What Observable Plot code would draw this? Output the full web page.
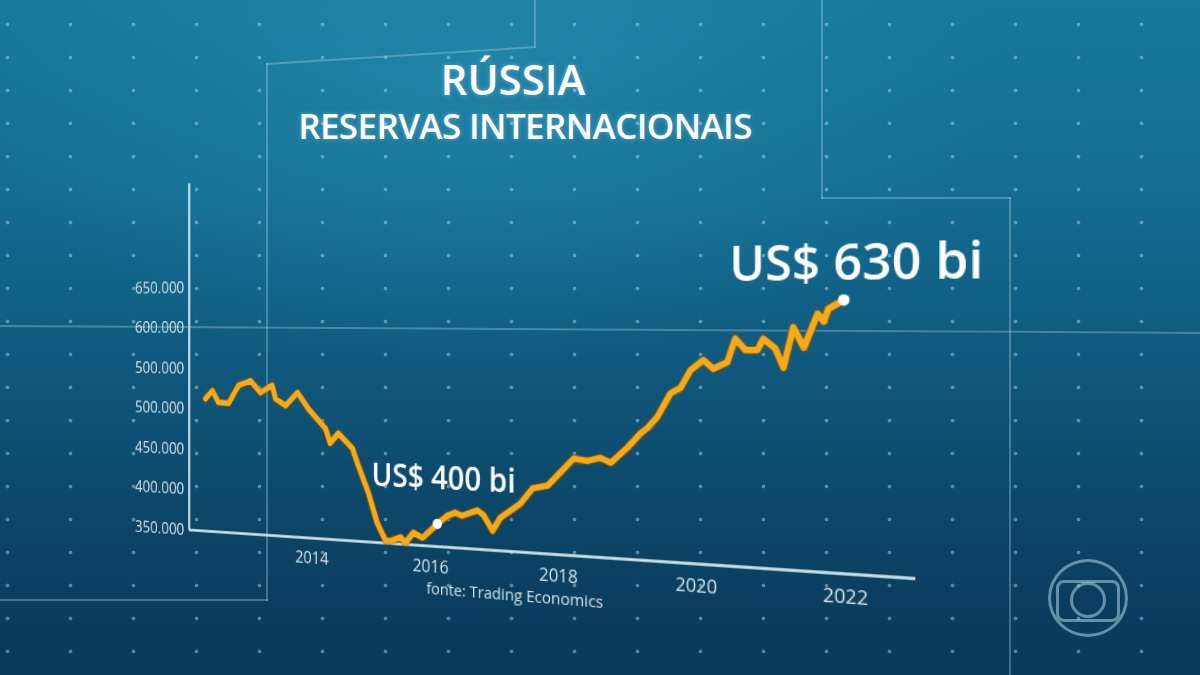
<!DOCTYPE html>
<html><head><meta charset="utf-8">
<script src="https://cdn.jsdelivr.net/npm/d3@7"></script>
<script src="https://cdn.jsdelivr.net/npm/@observablehq/plot@0.6"></script>
<style>
html,body{margin:0;padding:0;width:1200px;height:675px;overflow:hidden;}
body{position:relative;font-family:"Open Sans",sans-serif;
background:
 radial-gradient(ellipse 700px 420px at 40% 8%, rgba(45,150,185,0.45), rgba(45,150,185,0) 75%),
 linear-gradient(180deg,#17789b 0%,#146d92 28%,#105a7f 52%,#0c4668 76%,#0a3859 100%);}
.dots{position:absolute;left:0;top:0;width:1200px;height:675px;
background-image:radial-gradient(circle, rgba(175,220,238,0.45) 0, rgba(175,220,238,0.45) 1.4px, rgba(175,220,238,0) 2.3px);
background-size:63px 33px;background-position:-24px 8px;}
.ln{position:absolute;background:rgba(180,218,234,0.33);}
.title{position:absolute;color:#fff;font-weight:600;white-space:nowrap;text-align:center;text-shadow:0 0 5px rgba(200,240,255,0.35);}
#chart{position:absolute;left:0;top:0;width:1200px;height:675px;transform-origin:0 0;}
.logo{position:absolute;box-sizing:border-box;border:3px solid rgba(160,200,216,0.6);}
</style></head>
<body>
<div class="dots"></div>
<div class="ln" style="left:534px;top:0;width:2px;height:48px"></div>
<div class="ln" style="left:266px;top:63px;width:270px;height:2px;transform-origin:0 0;transform:rotate(-3.6deg)"></div>
<div class="ln" style="left:266px;top:63px;width:2px;height:538px"></div>
<div class="ln" style="left:0;top:599px;width:268px;height:2px"></div>
<div class="ln" style="left:821px;top:0;width:2px;height:199px"></div>
<div class="ln" style="left:821px;top:197px;width:190px;height:2px"></div>
<div class="ln" style="left:1009px;top:197px;width:2px;height:478px"></div>
<div class="ln" style="left:0;top:325px;width:1201px;height:2px;transform-origin:0 0;transform:rotate(0.33deg)"></div>
<div class="title" style="left:313px;top:58px;width:400px;font-size:42px;line-height:42px">RÚSSIA</div>
<div class="title" style="left:225px;top:108px;width:600px;font-size:35px;line-height:35px;letter-spacing:-0.6px">RESERVAS INTERNACIONAIS</div>
<div id="chart"></div>
<div class="logo" style="left:1048px;top:559px;width:80px;height:78px;border-radius:50%"></div>
<div class="logo" style="left:1056px;top:580px;width:64px;height:42px;border-radius:8px"></div>
<div class="logo" style="left:1070px;top:582px;width:36px;height:36px;border-radius:50%"></div>
<script>
// Reserves, US$ billions, by decimal year
const years = [2012.08,2012.21,2012.32,2012.51,2012.69,2012.91,2013.09,2013.30,2013.36,2013.54,
  2013.75,2013.94,2014.24,2014.32,2014.46,2014.70,2014.80,2014.97,2015.12,2015.26,
  2015.34,2015.51,2015.59,2015.72,2015.87,2016.00,2016.11,2016.27,2016.40,2016.51,
  2016.75,2016.85,2016.99,2017.11,2017.42,2017.61,2017.84,2018.03,2018.23,2018.44,
  2018.63,2018.78,2019.02,2019.21,2019.31,2019.45,2019.64,2019.78,2019.92,2020.10,
  2020.24,2020.43,2020.54,2020.68,2020.84,2020.92,2021.08,2021.19,2021.32,2021.46,
  2021.64,2021.72,2021.78,2021.98];
const values = [513,523,509,508,530,536,522,531,515,507,
  523,504,481,464,476,459,439,408,373,353,
  353,358,352,364,359,368,376,386,390,387,
  394,389,372,387,404,422,426,441,457,455,
  459,454,471,487,493,505,531,537,556,567,
  558,565,590,578,578,590,580,560,602,581,
  616,608,621,630];
const xTicks = [2014, 2016, 2018, 2020, 2022];
const yTicks = [350, 400, 450, 500, 550, 600, 650];
const yTickLabels = ["350.000","400.000","450.000","500.000","500.000","600.000","650.000"];
const markYears = [2016.11, 2021.98];
const markValues = [376, 630];
const markLabels = ["US$ 400 bi", "US$ 630 bi"];
const caption = "fonte: Trading Economics";

const series = years.map((t, i) => ({t, v: values[i]}));
const marks = markYears.map((t, i) => ({t, v: markValues[i], label: markLabels[i]}));
const xDomain = [2011.775, 2022.89];
const yDomain = [350, 778.4];

const plot = Plot.plot({
  width: 1200, height: 675,
  marginLeft: 187, marginRight: 296, marginTop: 183, marginBottom: 145,
  x: {domain: xDomain, ticks: xTicks, tickFormat: d => String(d), tickSize: 0, tickPadding: 13, label: null},
  y: {domain: yDomain, ticks: yTicks, tickFormat: d => yTickLabels[yTicks.indexOf(d)], tickSize: 0, tickPadding: 6, label: null},
  style: {background: "transparent", color: "#d0e2ea", fontSize: "16.5px", fontFamily: "Open Sans, sans-serif", overflow: "visible"},
  marks: [
    Plot.ruleX([xDomain[0]], {y1: yDomain[0], y2: yDomain[1], stroke: "#d3e6ee", strokeWidth: 2.5}),
    Plot.ruleY([yDomain[0]], {stroke: "#d3e6ee", strokeWidth: 2.5}),
    Plot.line(series, {x: "t", y: "v", stroke: "#8a5200", strokeWidth: 8, strokeOpacity: 0.5, strokeLinejoin: "round", strokeLinecap: "round"}),
    Plot.line(series, {x: "t", y: "v", stroke: "#f7aa18", strokeWidth: 5.5, strokeLinejoin: "round", strokeLinecap: "round"}),
    Plot.dot(marks, {x: "t", y: "v", r: 4.8, fill: "white"}),
    Plot.text(marks.slice(0, 1), {x: "t", y: "v", text: "label", dx: 5, dy: -42, fontSize: 30, fontWeight: 600, fill: "white"}),
    Plot.text(marks.slice(1), {x: "t", y: "v", text: "label", dx: 7, dy: -30, fontSize: 42, fontWeight: 600, fill: "white"}),
    Plot.text([caption], {frameAnchor: "bottom", text: d => d, dx: -2, dy: 44, fontSize: 15, fill: "#d0e2ea"})
  ]
});
const holder = document.getElementById("chart");
holder.append(plot);

// perspective tilt of the whole chart panel (projective map, verticals stay vertical)
const k = -0.174, alpha = 0.826, X0 = 197, SPAN = 658, SHIFT = 55.9;
const g = k / SPAN, c0 = 1 - X0 * g;
const a = X0 * g + alpha, c = X0 * (c0 - alpha);
const d = -SHIFT / SPAN, f = SHIFT * X0 / SPAN;
holder.style.transform = `matrix3d(${a/c0},${d/c0},0,${g/c0},0,${1/c0},0,0,0,0,1,0,${c/c0},${f/c0},0,1)`;
</script>
</body></html>
